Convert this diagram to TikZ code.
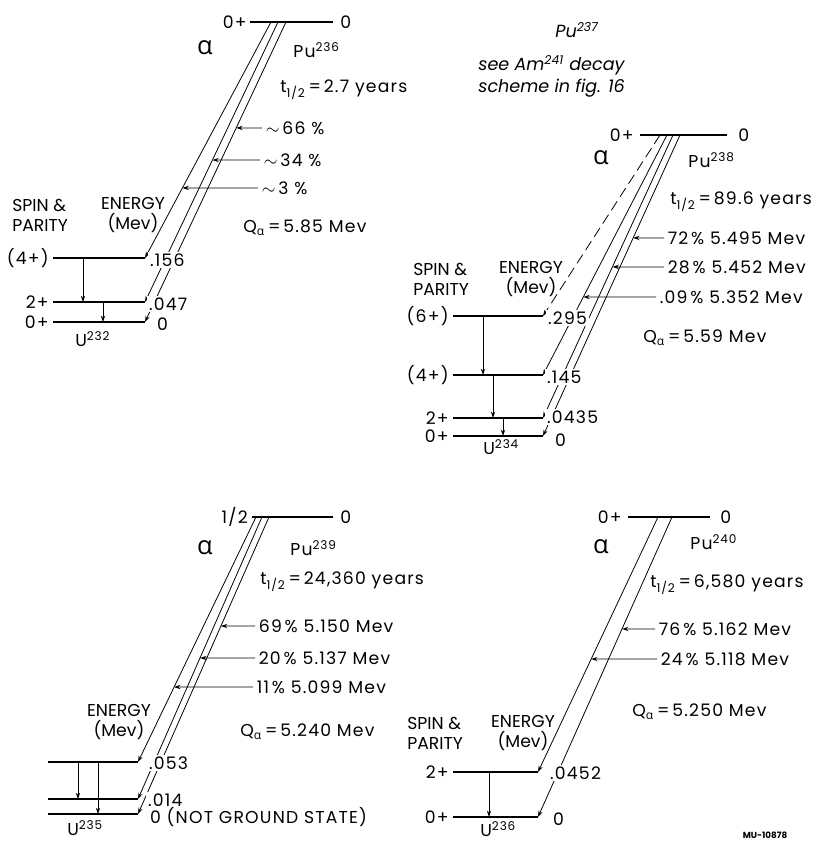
\documentclass[tikz,border=0pt]{standalone}
\usepackage{fontspec}
\setmainfont{Poppins}
\newfontfamily\widefont{Poppins}[LetterSpace=7]
\newfontfamily\greekfont{Open Sans}
\newcommand{\alphch}{{\greekfont α}}
\usetikzlibrary{arrows.meta, calc}

\begin{document}
\begin{tikzpicture}[x=0.02cm, y=-0.02cm,
    txt/.style={font=\fontsize{9.8}{11.3}\selectfont, inner sep=0pt},
    numtxt/.style={font=\fontsize{9.8}{11.3}\selectfont\widefont, inner sep=0pt, anchor=west},
    endlbl/.style={numtxt, fill=white, inner sep=1pt},
    notetxt/.style={font=\fontsize{10}{11.3}\selectfont\itshape, inner sep=0pt},
    alph/.style={font=\fontsize{14.5}{15}\selectfont, inner sep=0pt, anchor=base},
    lvl/.style={line width=0.9pt},
    decay/.style={line width=0.45pt, -{Stealth[length=3.6pt, width=2.4pt]}},
    gam/.style={line width=0.45pt, -{Stealth[length=3.6pt, width=2.4pt]}},
    pct/.style={line width=0.45pt, -{Stealth[length=3.6pt, width=2.4pt]}}]
  \useasboundingbox (0,0) rectangle (818,845);

  % Pu236 -> U232
  \coordinate (a0l) at (250,22);  \coordinate (a0r) at (333,22);
  \coordinate (a1l) at (53,258);  \coordinate (a1r) at (145,258);
  \coordinate (a2l) at (53,302);  \coordinate (a2r) at (145,302);
  \coordinate (a3l) at (53,322);  \coordinate (a3r) at (145,322);
  \coordinate (ad1) at (271,22);  \coordinate (ad2) at (278,22);  \coordinate (ad3) at (286,22);
  \draw[lvl] (a0l) -- (a0r);
  \draw[lvl] (a1l) -- (a1r);
  \draw[lvl] (a2l) -- (a2r);
  \draw[lvl] (a3l) -- (a3r);
  \draw[decay] (ad1) -- (a1r);
  \draw[decay] (ad2) -- (a2r);
  \draw[decay] (ad3) -- (a3r);
  \coordinate (ag1) at ($(a1l)+(30,0)$);
  \coordinate (ag2) at ($(a2l)+(50,0)$);
  \draw[gam] (ag1) -- (ag1 |- a2l);
  \draw[gam] (ag2) -- (ag2 |- a3l);
  \node[numtxt, anchor=east] (a0s) at (247,22) {0+};
  \node[numtxt] (a0e) at (340,22) {0};
  \node[alph] (aalpha) at (205,54) {\alphch};
  \node[numtxt] (apu) at (293,50) {Pu\textsuperscript{236}};
  \node[numtxt] (ahalf) at (280,90) {t\textsubscript{1/2}\,=\,2.7 years};
  \node[numtxt, inner xsep=2pt] (ap66) at (262,128) {$\sim$\,66 \%};
  \node[numtxt, inner xsep=2pt] (ap34) at (260,160) {$\sim$\,34 \%};
  \node[numtxt, inner xsep=2pt] (ap3) at (258,188) {$\sim$\,3 \%};
  \draw[pct] (ap66.west) -- ($(ad3)!0.353!(a3r)$);
  \draw[pct] (ap34.west) -- ($(ad2)!0.493!(a2r)$);
  \draw[pct] (ap3.west) -- ($(ad1)!0.703!(a1r)$);
  \node[numtxt] (aq) at (243,228) {Q\textsubscript{\alphch}\,=\,5.85 Mev};
  \node[txt, anchor=west, align=left] (aspin) at (12,215) {SPIN \&\\PARITY};
  \node[txt, align=center] (aen) at (133,215) {ENERGY\\(Mev)};
  \node[numtxt, anchor=east] (a1s) at (49,258) {(4+)};
  \node[numtxt, anchor=east] (a2s) at (49,302) {2+};
  \node[numtxt, anchor=east] (a3s) at (49,322) {0+};
  \node[endlbl] (a1e) at (148,260) {.156};
  \node[endlbl] (a2e) at (147,304) {.047};
  \node[endlbl] (a3e) at (155,324) {0};
  \node[numtxt] (au) at (75,339) {U\textsuperscript{232}};

  % Pu237 note
  \node[notetxt] (bnote) at (577,30) {Pu\textsuperscript{237}};
  \node[notetxt, anchor=west] (bam) at (478,65) {see Am\textsuperscript{241} decay};
  \node[notetxt, anchor=west] (bfig) at (478,88) {scheme in fig. 16};

  % Pu238 -> U234
  \coordinate (b0l) at (640,135);  \coordinate (b0r) at (727,135);
  \coordinate (b1l) at (453,316);  \coordinate (b1r) at (543,316);
  \coordinate (b2l) at (453,375);  \coordinate (b2r) at (543,375);
  \coordinate (b3l) at (453,418);  \coordinate (b3r) at (543,418);
  \coordinate (b4l) at (453,436);  \coordinate (b4r) at (543,436);
  \coordinate (bd0) at (660,135);  \coordinate (bd1) at (667,135);
  \coordinate (bd2) at (673,135);  \coordinate (bd3) at (680,135);
  \draw[lvl] (b0l) -- (b0r);
  \draw[lvl] (b1l) -- (b1r);
  \draw[lvl] (b2l) -- (b2r);
  \draw[lvl] (b3l) -- (b3r);
  \draw[lvl] (b4l) -- (b4r);
  \draw[decay, dash pattern=on 6pt off 3pt] (bd0) -- (b1r);
  \draw[decay] (bd1) -- (b2r);
  \draw[decay] (bd2) -- (b3r);
  \draw[decay] (bd3) -- (b4r);
  \coordinate (bg1) at ($(b1l)+(30,0)$);
  \coordinate (bg2) at ($(b2l)+(40,0)$);
  \coordinate (bg3) at ($(b3l)+(50,0)$);
  \draw[gam] (bg1) -- (bg1 |- b2l);
  \draw[gam] (bg2) -- (bg2 |- b3l);
  \draw[gam] (bg3) -- (bg3 |- b4l);
  \node[numtxt, anchor=east] (b0s) at (634,135) {0+};
  \node[numtxt] (b0e) at (738,135) {0};
  \node[alph] (balpha) at (601,164) {\alphch};
  \node[numtxt] (bpu) at (688,160) {Pu\textsuperscript{238}};
  \node[numtxt] (bhalf) at (670,202) {t\textsubscript{1/2}\,=\,89.6 years};
  \node[numtxt, inner xsep=2pt] (bp72) at (664,238) {72\,\% 5.495 Mev};
  \node[numtxt, inner xsep=2pt] (bp28) at (664,267) {28\,\% 5.452 Mev};
  \node[numtxt, inner xsep=2pt] (bp09) at (656,297) {.09\,\% 5.352 Mev};
  \draw[pct] (bp72.west) -- ($(bd3)!0.342!(b4r)$);
  \draw[pct] (bp28.west) -- ($(bd2)!0.466!(b3r)$);
  \draw[pct] (bp09.west) -- ($(bd1)!0.675!(b2r)$);
  \node[numtxt] (bq) at (643,338) {Q\textsubscript{\alphch}\,=\,5.59 Mev};
  \node[txt, anchor=west, align=left] (bspin) at (413,279) {SPIN \&\\PARITY};
  \node[txt, align=center] (ben) at (531,279) {ENERGY\\(Mev)};
  \node[numtxt, anchor=east] (b1s) at (449,316) {(6+)};
  \node[numtxt, anchor=east] (b2s) at (449,375) {(4+)};
  \node[numtxt, anchor=east] (b3s) at (449,418) {2+};
  \node[numtxt, anchor=east] (b4s) at (449,436) {0+};
  \node[endlbl] (b1e) at (546,318) {.295};
  \node[endlbl] (b2e) at (545,377) {.145};
  \node[endlbl] (b3e) at (545,417) {.0435};
  \node[endlbl] (b4e) at (553,440) {0};
  \node[numtxt] (bu) at (483,447) {U\textsuperscript{234}};

  % Pu239 -> U235
  \coordinate (c0l) at (252,517);  \coordinate (c0r) at (333,517);
  \coordinate (c1l) at (48,762);   \coordinate (c1r) at (138,762);
  \coordinate (c2l) at (48,799);   \coordinate (c2r) at (138,799);
  \coordinate (c3l) at (48,814);   \coordinate (c3r) at (138,814);
  \coordinate (cd1) at (256,517);  \coordinate (cd2) at (262,517);  \coordinate (cd3) at (269,517);
  \draw[lvl] (c0l) -- (c0r);
  \draw[lvl] (c1l) -- (c1r);
  \draw[lvl] (c2l) -- (c2r);
  \draw[lvl] (c3l) -- (c3r);
  \draw[decay] (cd1) -- (c1r);
  \draw[decay] (cd2) -- (c2r);
  \draw[decay] (cd3) -- (c3r);
  \coordinate (cg1) at ($(c1l)+(30,0)$);
  \coordinate (cg2) at ($(c1l)+(50,0)$);
  \draw[gam] (cg1) -- (cg1 |- c2l);
  \draw[gam] (cg2) -- (cg2 |- c3l);
  \node[numtxt, anchor=east] (c0s) at (248,517) {1/2};
  \node[numtxt] (c0e) at (340,517) {0};
  \node[alph] (calpha) at (205,554) {\alphch};
  \node[numtxt] (cpu) at (290,548) {Pu\textsuperscript{239}};
  \node[numtxt] (chalf) at (260,582) {t\textsubscript{1/2}\,=\,24,360 years};
  \node[numtxt, inner xsep=2pt] (cp69) at (255,626) {69\,\% 5.150 Mev};
  \node[numtxt, inner xsep=2pt] (cp20) at (255,658) {20\,\% 5.137 Mev};
  \node[numtxt, inner xsep=2pt] (cp11) at (253,687) {11\,\% 5.099 Mev};
  \draw[pct] (cp69.west) -- ($(cd3)!0.367!(c3r)$);
  \draw[pct] (cp20.west) -- ($(cd2)!0.5!(c2r)$);
  \draw[pct] (cp11.west) -- ($(cd1)!0.694!(c1r)$);
  \node[numtxt] (cq) at (240,732) {Q\textsubscript{\alphch}\,=\,5.240 Mev};
  \node[txt, align=center] (cen) at (119,722) {ENERGY\\(Mev)};
  \node[endlbl] (c1e) at (147,763) {.053};
  \node[endlbl] (c2e) at (146,800) {.014};
  \node[endlbl] (c3e) at (148,817) {0 (NOT GROUND STATE)};
  \node[numtxt] (cu) at (67,828) {U\textsuperscript{235}};

  % Pu240 -> U236
  \coordinate (d0l) at (628,517);  \coordinate (d0r) at (710,517);
  \coordinate (d1l) at (453,772);  \coordinate (d1r) at (538,772);
  \coordinate (d2l) at (453,817);  \coordinate (d2r) at (538,817);
  \coordinate (dd1) at (658,517);  \coordinate (dd2) at (672,517);
  \draw[lvl] (d0l) -- (d0r);
  \draw[lvl] (d1l) -- (d1r);
  \draw[lvl] (d2l) -- (d2r);
  \draw[decay] (dd1) -- (d1r);
  \draw[decay] (dd2) -- (d2r);
  \coordinate (dg1) at ($(d1l)+(36,0)$);
  \draw[gam] (dg1) -- (dg1 |- d2l);
  \node[numtxt, anchor=east] (d0s) at (622,517) {0+};
  \node[numtxt] (d0e) at (720,517) {0};
  \node[alph] (dalpha) at (601,553) {\alphch};
  \node[numtxt] (dpu) at (690,542) {Pu\textsuperscript{240}};
  \node[numtxt] (dhalf) at (650,585) {t\textsubscript{1/2}\,=\,6,580 years};
  \node[numtxt, inner xsep=2pt] (dp76) at (655,629) {76\,\% 5.162 Mev};
  \node[numtxt, inner xsep=2pt] (dp24) at (657,659) {24\,\% 5.118 Mev};
  \draw[pct] (dp76.west) -- ($(dd2)!0.373!(d2r)$);
  \draw[pct] (dp24.west) -- ($(dd1)!0.557!(d1r)$);
  \node[numtxt] (dq) at (632,712) {Q\textsubscript{\alphch}\,=\,5.250 Mev};
  \node[txt, anchor=west, align=left] (dspin) at (407,733) {SPIN \&\\PARITY};
  \node[txt, align=center] (den) at (523,733) {ENERGY\\(Mev)};
  \node[numtxt, anchor=east] (d1s) at (449,772) {2+};
  \node[numtxt, anchor=east] (d2s) at (449,817) {0+};
  \node[endlbl] (d1e) at (548,773) {.0452};
  \node[endlbl] (d2e) at (551,819) {0};
  \node[numtxt] (du) at (480,829) {U\textsuperscript{236}};
  \node[font=\fontsize{5}{6}\selectfont\bfseries, inner sep=0pt] (mu) at (765,835) {MU-10878};
\end{tikzpicture}
\end{document}
